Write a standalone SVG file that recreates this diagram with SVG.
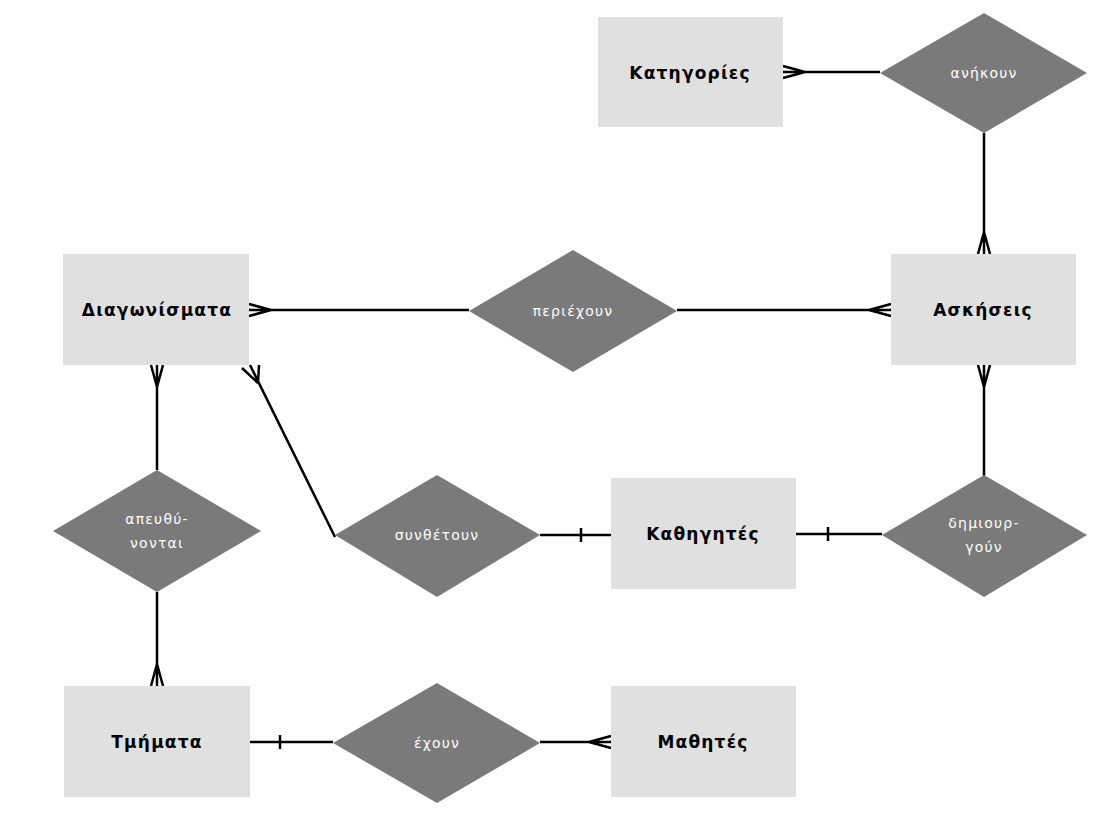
<svg xmlns="http://www.w3.org/2000/svg" width="1118" height="813" viewBox="0 0 1118 813">
<style>
.ent rect{fill:#e0e0e0}
.ent text{font-family:"DejaVu Sans",sans-serif;font-weight:bold;font-size:17px;letter-spacing:1.2px;fill:#000;text-anchor:middle;dominant-baseline:central}
.rel polygon{fill:#7a7a7a}
.rel text{font-family:"DejaVu Sans",sans-serif;font-size:14px;letter-spacing:1.2px;fill:#fff;text-anchor:middle;dominant-baseline:central}
.conn path{stroke:#000;stroke-width:2.5;fill:none}
</style>
<rect width="1118" height="813" fill="#fff"/>
<g class="conn">
<path d="M783,72 H880 M805,72 L783,66 M805,72 L783,78"/>
<path d="M984,133 V254 M984,232 L978,254 M984,232 L990,254"/>
<path d="M249,310 H469 M271,310 L249,304 M271,310 L249,316"/>
<path d="M677,310 H891 M869,310 L891,304 M869,310 L891,316"/>
<path d="M984,365 V476 M984,387 L978,365 M984,387 L990,365"/>
<path d="M796,534 H882 M828,527 V541"/>
<path d="M540,535 H611 M581,528 V542"/>
<path d="M335,537 L250,365 M258,383 L242,368 M258,383 L259,365"/>
<path d="M157,365 V470 M157,387 L151,365 M157,387 L163,365"/>
<path d="M157,592 V686 M157,664 L151,686 M157,664 L163,686"/>
<path d="M250,742 H333 M280,735 V749"/>
<path d="M540,742 H611 M589,742 L611,736 M589,742 L611,748"/>
</g>
<g id="kategories" class="ent"><rect x="598" y="17" width="185" height="110"/><text x="690" y="73">Κατηγορίες</text></g>
<g id="diagonismata" class="ent"><rect x="63" y="254" width="186" height="111"/><text x="157" y="310">Διαγωνίσματα</text></g>
<g id="askiseis" class="ent"><rect x="891" y="254" width="185" height="111"/><text x="983" y="310">Ασκήσεις</text></g>
<g id="kathigites" class="ent"><rect x="611" y="478" width="185" height="111"/><text x="703" y="534">Καθηγητές</text></g>
<g id="tmimata" class="ent"><rect x="64" y="686" width="186" height="111"/><text x="157" y="742">Τμήματα</text></g>
<g id="mathites" class="ent"><rect x="611" y="686" width="185" height="111"/><text x="703" y="742">Μαθητές</text></g>
<g id="anikoun" class="rel"><polygon points="984,13 1087,73 984,133 880,73"/><text x="984" y="73">ανήκουν</text></g>
<g id="periexoun" class="rel"><polygon points="573,250 677,311 573,372 469,311"/><text x="573" y="311">περιέχουν</text></g>
<g id="dimiourgoun" class="rel"><polygon points="984,475 1087,535 984,597 882,535"/><text x="984" y="523">δημιουρ-</text><text x="984" y="547">γούν</text></g>
<g id="synthetoun" class="rel"><polygon points="437,475 540,535 437,597 335,535"/><text x="437" y="535">συνθέτουν</text></g>
<g id="apeythynontai" class="rel"><polygon points="157,470 261,531 157,592 53,531"/><text x="157" y="519">απευθύ-</text><text x="157" y="543">νονται</text></g>
<g id="exoun" class="rel"><polygon points="437,683 540,743 437,803 333,743"/><text x="437" y="743">έχουν</text></g>
</svg>
